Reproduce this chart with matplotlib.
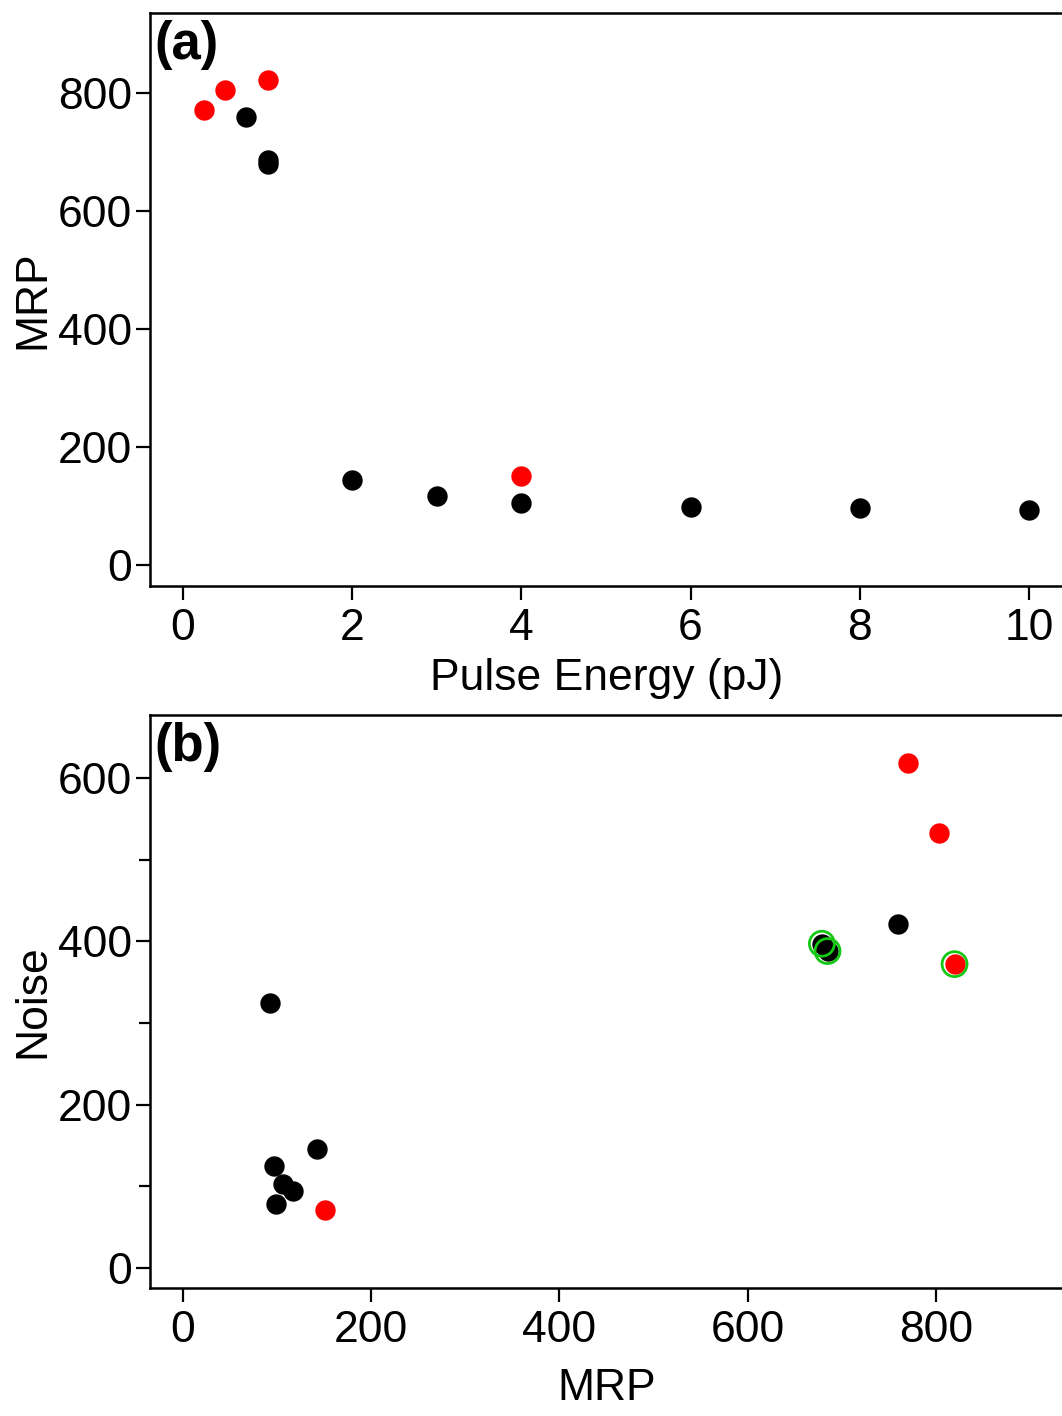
import matplotlib
matplotlib.use("Agg")
import matplotlib.pyplot as plt

plt.rcParams["font.family"] = ["Liberation Sans", "DejaVu Sans"]
plt.rcParams["font.size"] = 32

# ---- panel (a): MRP vs pulse energy ----
energy_black = [0.75, 1.0, 1.0, 2, 3, 4, 6, 8, 10]
mrp_black = [759, 680, 686, 144, 117, 105, 98, 97, 93]
energy_red = [0.25, 0.5, 1.0, 4]
mrp_red = [771, 805, 822, 151]

# ---- panel (b): noise vs MRP ----
mrpb_black = [760, 679, 685, 92, 143, 97, 106, 117, 99]
noise_black = [421, 397, 388, 324, 146, 125, 103, 94, 78]
mrpb_red = [770, 804, 820, 151]
noise_red = [618, 533, 372, 71]
# points highlighted with a green ring
mrp_ring = [679, 685, 820]
noise_ring = [397, 388, 372]

W, H = 1062, 1416
fig = plt.figure(figsize=(W / 100, H / 100), dpi=100)

def px_axes(left, top, right, bottom):
    return fig.add_axes([left / W, 1 - bottom / H, (right - left) / W, (bottom - top) / H])

MS = 215

def style(ax):
    for s in ("left", "bottom", "top"):
        ax.spines[s].set_linewidth(1.8)
    ax.spines["right"].set_visible(False)
    ax.tick_params(axis="both", which="major", length=10, width=1.6, labelsize=32)
    ax.tick_params(axis="x", which="major", pad=6)
    ax.tick_params(axis="y", which="major", pad=3)
    ax.tick_params(axis="both", which="minor", length=8, width=1.6)
    ax.tick_params(top=False, right=False)

RIGHT = 1063

ax1 = px_axes(150, 13, RIGHT, 586)
ax1.scatter(energy_black, mrp_black, s=MS, color="black", linewidths=0, zorder=3)
ax1.scatter(energy_red, mrp_red, s=MS, color="red", linewidths=0, zorder=3)
ax1.set_xlim(-0.39, -0.39 + (RIGHT - 150) / 84.6)
ax1.set_ylim(-35.6, 935.6)
ax1.set_xticks([0, 2, 4, 6, 8, 10])
ax1.set_yticks([0, 200, 400, 600, 800])
ax1.set_xlabel("Pulse Energy (pJ)", labelpad=6)
ax1.set_ylabel("MRP", labelpad=3)
style(ax1)
ax1.text(0.005, 0.988, "(a)", transform=ax1.transAxes, ha="left", va="top",
         fontsize=38, fontweight="bold")

ax2 = px_axes(150, 715, RIGHT, 1288)
ax2.scatter(mrpb_black, noise_black, s=MS, color="black", linewidths=0, zorder=3)
ax2.scatter(mrpb_red, noise_red, s=MS, color="red", linewidths=0, zorder=3)
ax2.scatter(mrp_ring, noise_ring, s=MS * 1.5, facecolors="none",
            edgecolors="#14c814", linewidths=2, zorder=4)
ax2.set_xlim(-35, -35 + (RIGHT - 150) / 0.941)
ax2.set_ylim(-24.5, 677)
ax2.set_xticks([0, 200, 400, 600, 800])
ax2.set_yticks([0, 200, 400, 600])
ax2.set_yticks([100, 300, 500], minor=True)
ax2.set_xlabel("MRP", labelpad=12)
ax2.set_ylabel("Noise", labelpad=3)
style(ax2)
ax2.text(0.005, 0.988, "(b)", transform=ax2.transAxes, ha="left", va="top",
         fontsize=38, fontweight="bold")

fig.savefig("out.png", dpi=100)
